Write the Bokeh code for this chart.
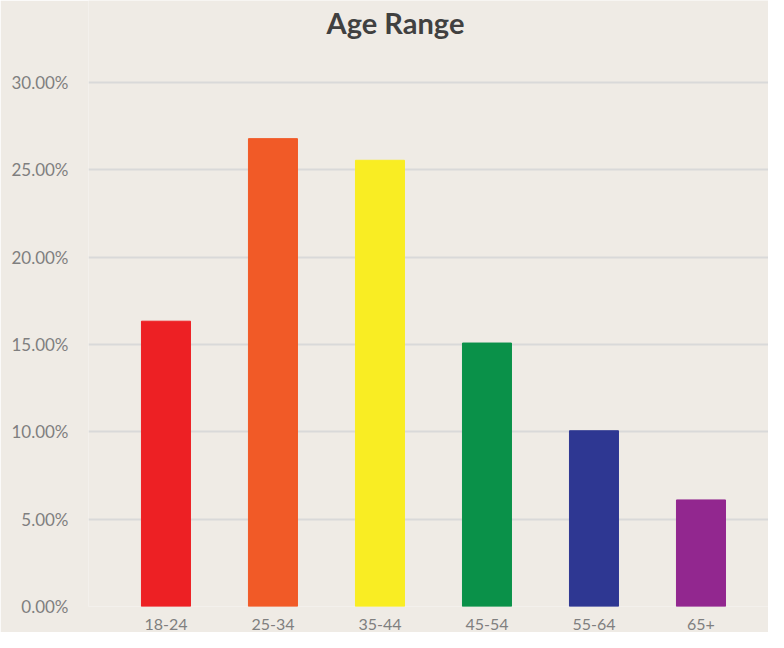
from bokeh.plotting import figure
from bokeh.models import ColumnDataSource, Range1d, FixedTicker, NumeralTickFormatter, Label
from bokeh.embed import file_html
from bokeh.resources import INLINE

categories = ["18-24", "25-34", "35-44", "45-54", "55-64", "65+"]
shares = [0.1633, 0.2678, 0.2554, 0.1508, 0.1006, 0.0610]
y_ticks = [0.0, 0.05, 0.10, 0.15, 0.20, 0.25, 0.30]
title_text = "Age Range"

bar_colors = ["#ED2024", "#F15A27", "#F9ED23", "#0A9149", "#2E3792", "#92278F"]
BG = "#EFEBE5"

src = ColumnDataSource(dict(
    x=list(range(len(categories))),
    top=shares,
    color=bar_colors,
))

# frame spans the full height above the axis; the range above 30% holds the title
p = figure(width=768, height=632, output_backend="svg", toolbar_location=None,
           x_range=Range1d(-0.724, 5.631), y_range=Range1d(0, 0.34686),
           min_border_left=88, min_border_right=0, min_border_top=0, min_border_bottom=25)

p.background_fill_color = BG
p.border_fill_color = BG
p.outline_line_color = None

p.vbar(x="x", top="top", width=0.458, color="color", source=src)

p.add_layout(Label(x=2.145, y=0.33429, text=title_text, text_font="Lato",
                   text_font_style="bold", text_font_size="29px", text_color="#404040",
                   text_align="center", text_baseline="middle"))

p.xgrid.grid_line_color = None
p.ygrid.grid_line_color = "#D9D9D9"
p.ygrid.grid_line_width = 2
p.ygrid.ticker = FixedTicker(ticks=y_ticks)

p.yaxis.ticker = FixedTicker(ticks=y_ticks)
p.yaxis.formatter = NumeralTickFormatter(format="0.00%")
p.xaxis.ticker = FixedTicker(ticks=list(range(len(categories))))
p.xaxis.major_label_overrides = {i: c for i, c in enumerate(categories)}

for ax in (p.xaxis, p.yaxis):
    ax.axis_line_color = None
    ax.major_tick_line_color = None
    ax.minor_tick_line_color = None
    ax.major_label_text_font = "Lato"
    ax.major_label_text_color = "#7F7F7F"
p.yaxis.major_label_text_font_size = "17px"
p.xaxis.major_label_text_font_size = "16px"
p.yaxis.major_label_standoff = 14
p.xaxis.major_label_standoff = 6

open("out.html", "w").write(file_html(p, INLINE))
